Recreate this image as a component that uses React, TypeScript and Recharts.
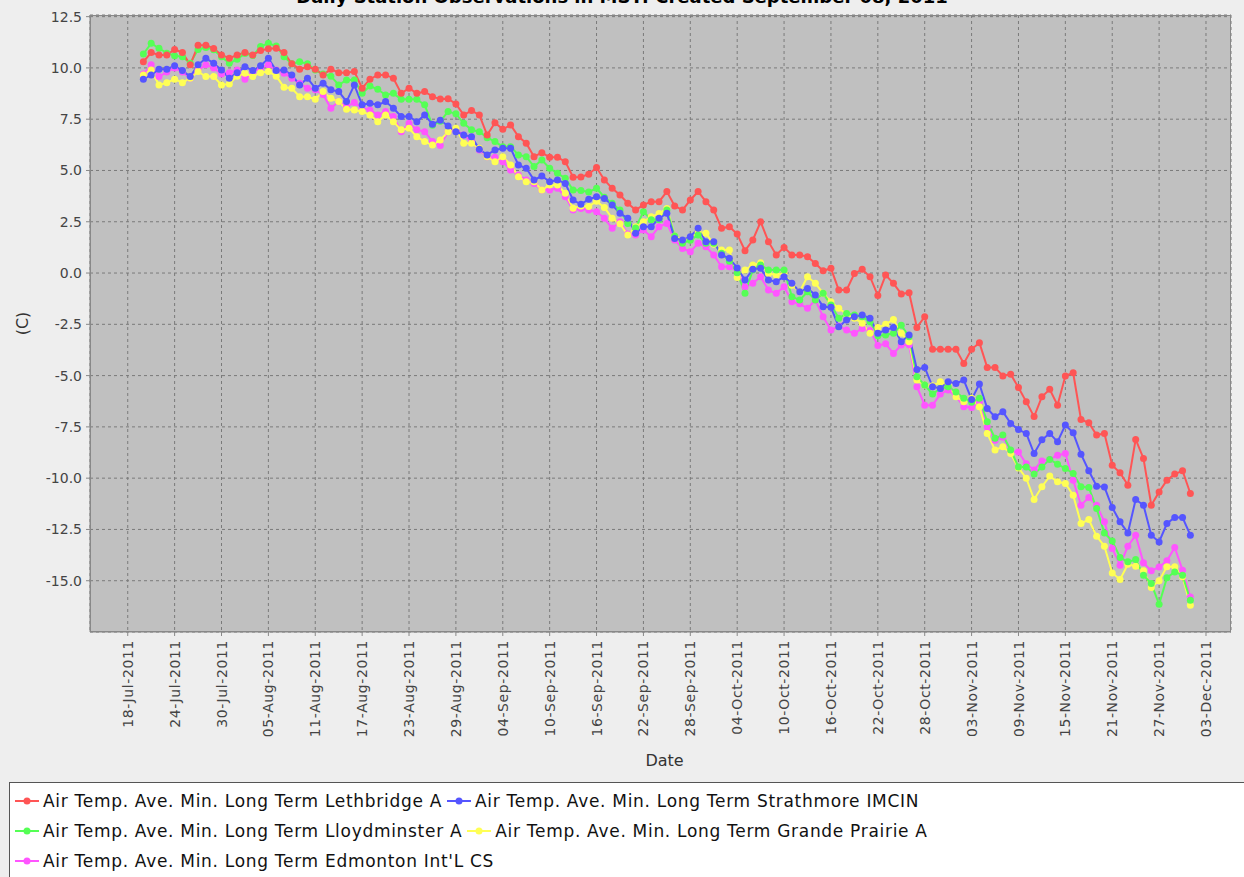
import React from "react";
import { LineChart, Line, XAxis, YAxis, CartesianGrid, Label } from "recharts";

// daily values, first point on 20-Jul-2011
const firstDay = "20-Jul-2011";

const tickLabels = [
  "18-Jul-2011", "24-Jul-2011", "30-Jul-2011", "05-Aug-2011", "11-Aug-2011", "17-Aug-2011",
  "23-Aug-2011", "29-Aug-2011", "04-Sep-2011", "10-Sep-2011", "16-Sep-2011", "22-Sep-2011",
  "28-Sep-2011", "04-Oct-2011", "10-Oct-2011", "16-Oct-2011", "22-Oct-2011", "28-Oct-2011",
  "03-Nov-2011", "09-Nov-2011", "15-Nov-2011", "21-Nov-2011", "27-Nov-2011", "03-Dec-2011",
];

const yTicks = [-15, -12.5, -10, -7.5, -5, -2.5, 0, 2.5, 5, 7.5, 10, 12.5];

const lethbridge = [
  10.3, 10.75, 10.63, 10.63, 10.9, 10.75, 10.15, 11.1, 11.1, 10.95, 10.63, 10.47, 10.63, 10.75, 10.63, 10.85, 10.93, 10.96, 10.75,
  10.2, 9.94, 10.06, 9.94, 9.66, 9.94, 9.77, 9.77, 9.82, 9.01, 9.45, 9.66, 9.66, 9.5, 8.76, 9.01, 8.76, 8.85, 8.6, 8.48,
  8.5, 8.24, 7.71, 7.92, 7.71, 6.73, 7.33, 7.01, 7.22, 6.65, 6.33, 5.67, 5.87, 5.64, 5.64, 5.43, 4.67, 4.68, 4.82,
  5.15, 4.54, 4.13, 3.8, 3.4, 3.07, 3.32, 3.48, 3.48, 3.97, 3.27, 3.07, 3.56, 3.97, 3.48, 3.07, 2.18, 2.26, 1.9,
  1.09, 1.61, 2.5, 1.53, 0.88, 1.25, 0.88, 0.88, 0.8, 0.47, 0.11, 0.23, -0.83, -0.83, -0.02, 0.18, -0.18, -1.1, -0.1,
  -0.5, -1.02, -0.96, -2.65, -2.13, -3.72, -3.72, -3.72, -3.72, -4.41, -3.72, -3.4, -4.6, -4.6, -5.02, -4.93, -5.58, -6.28, -7.0, -6.03,
  -5.67, -6.44, -5.02, -4.86, -7.14, -7.3, -7.9, -7.82, -9.37, -9.74, -10.34, -8.11, -9.04, -11.32, -10.67, -10.1, -9.8, -9.64, -10.75,
];

const strathmore = [
  9.45, 9.66, 9.94, 9.94, 10.1, 9.87, 9.58, 10.15, 10.47, 10.23, 9.9, 9.5, 9.77, 10.06, 9.87, 10.1, 10.47, 9.87, 9.9,
  9.66, 9.17, 9.5, 9.01, 9.25, 8.93, 8.85, 8.36, 9.17, 8.2, 8.28, 8.2, 8.36, 8.03, 7.63, 7.63, 7.38, 7.71, 7.25, 7.45,
  7.17, 6.89, 6.73, 6.65, 6.03, 5.76, 6.0, 6.08, 6.08, 5.27, 5.11, 4.54, 4.73, 4.45, 4.54, 4.37, 3.56, 3.35, 3.6,
  3.72, 3.64, 3.32, 2.91, 2.67, 1.94, 2.26, 2.26, 2.67, 2.91, 1.69, 1.61, 1.77, 2.18, 1.53, 1.53, 0.88, 0.72, 0.25,
  -0.34, 0.18, 0.23, -0.34, -0.42, -0.18, -0.5, -0.91, -0.75, -1.07, -1.64, -1.67, -2.62, -2.29, -2.13, -2.05, -2.21, -2.93, -2.78,
  -2.65, -3.35, -3.02, -4.7, -4.6, -5.54, -5.63, -5.3, -5.38, -5.22, -6.16, -5.41, -6.6, -7.01, -6.76, -7.33, -7.63, -7.82, -8.8, -8.13,
  -7.82, -8.23, -7.41, -7.79, -8.83, -9.64, -10.39, -10.43, -11.43, -12.13, -12.67, -11.04, -11.32, -12.78, -13.11, -12.21, -11.92, -11.92, -12.78,
];

const lloydminster = [
  10.68, 11.2, 10.96, 10.72, 10.59, 10.55, 10.23, 10.9, 11.0, 10.88, 10.55, 10.23, 10.42, 10.7, 10.6, 11.04, 11.2, 11.07, 10.55,
  10.2, 10.3, 10.2, 9.9, 9.7, 9.6, 9.17, 9.41, 9.41, 8.76, 9.12, 8.96, 8.68, 8.76, 8.47, 8.47, 8.47, 8.2, 7.2, 7.4,
  7.87, 7.76, 7.3, 6.98, 6.89, 6.6, 6.41, 6.16, 6.16, 5.76, 5.67, 5.19, 5.51, 5.11, 4.86, 4.62, 4.05, 4.02, 3.95,
  4.13, 3.7, 3.4, 3.07, 2.42, 2.2, 2.99, 2.6, 2.6, 3.07, 1.8, 1.45, 1.6, 1.85, 1.45, 1.45, 0.96, 0.57, 0.02,
  -0.99, 0.15, 0.39, 0.15, 0.15, 0.15, -1.15, -1.32, -0.91, -1.32, -0.99, -1.56, -2.21, -1.97, -2.05, -2.13, -2.37, -3.06, -3.02,
  -2.94, -2.54, -3.11, -5.06, -5.46, -5.9, -5.63, -5.54, -5.8, -6.11, -6.3, -6.11, -7.25, -8.06, -7.9, -8.63, -9.45, -9.45, -9.8, -9.45,
  -9.09, -9.32, -9.53, -9.77, -10.42, -10.45, -11.48, -12.67, -13.06, -13.87, -14.08, -13.97, -14.73, -15.14, -16.15, -14.85, -14.57, -14.73, -15.95,
];

const grandePrairie = [
  9.66, 9.9, 9.17, 9.28, 9.45, 9.28, 9.5, 9.82, 9.58, 9.58, 9.17, 9.22, 9.6, 9.74, 9.58, 9.77, 9.82, 9.6, 9.06,
  9.01, 8.6, 8.6, 8.47, 8.85, 8.52, 8.36, 7.98, 7.95, 7.87, 7.71, 7.38, 7.71, 7.38, 6.98, 7.06, 6.65, 6.41, 6.24, 6.49,
  6.89, 7.06, 6.33, 6.33, 6.08, 5.67, 5.43, 5.67, 5.27, 4.7, 4.45, 4.45, 4.05, 4.29, 4.29, 3.89, 3.16, 3.27, 3.24,
  3.5, 3.2, 2.67, 2.4, 1.85, 2.26, 2.5, 2.75, 2.9, 3.15, 1.8, 1.6, 1.7, 2.0, 1.94, 1.4, 1.12, 1.12, -0.22,
  0.15, 0.39, 0.5, -0.02, -0.1, 0.0, -0.6, -0.9, -0.18, -0.5, -0.99, -1.4, -1.72, -2.0, -2.2, -2.45, -2.94, -2.65, -2.5,
  -2.26, -2.94, -3.35, -5.22, -5.46, -5.5, -5.3, -5.46, -6.03, -6.28, -6.11, -6.52, -7.82, -8.63, -8.47, -8.8, -9.5, -10.0, -11.04, -10.42,
  -9.9, -10.18, -10.26, -10.83, -12.21, -12.02, -12.83, -13.32, -14.62, -14.94, -14.2, -14.29, -14.52, -15.33, -15.0, -14.32, -14.32, -14.81, -16.2,
];

const edmonton = [
  9.7, 10.15, 9.58, 9.8, 10.0, 9.8, 9.5, 9.9, 10.15, 10.0, 9.7, 9.77, 9.9, 9.45, 9.8, 10.0, 10.15, 9.9, 9.74,
  9.5, 9.25, 9.01, 8.93, 8.7, 8.03, 8.36, 8.11, 8.31, 8.03, 7.95, 7.71, 7.87, 7.63, 6.89, 7.3, 6.98, 6.89, 6.41, 6.22,
  6.89, 6.98, 6.73, 6.4, 6.0, 5.67, 5.64, 5.43, 5.02, 4.78, 4.54, 4.37, 4.05, 4.05, 4.13, 3.72, 3.07, 3.15, 3.07,
  2.99, 2.67, 2.18, 2.5, 1.9, 1.85, 2.1, 1.77, 2.26, 2.42, 1.61, 1.2, 1.04, 1.45, 1.28, 0.88, 0.31, 0.31, 0.1,
  -0.67, -0.5, -0.18, -0.83, -0.99, -0.67, -1.4, -1.5, -1.72, -1.32, -2.13, -2.78, -2.6, -2.78, -2.94, -2.7, -2.8, -3.53, -3.45,
  -3.92, -3.51, -3.5, -5.54, -6.44, -6.44, -5.9, -5.7, -6.0, -6.52, -6.55, -6.3, -7.5, -8.15, -8.0, -8.7, -8.72, -9.3, -9.6, -9.16,
  -9.09, -8.88, -8.8, -10.1, -11.32, -10.94, -11.32, -12.13, -13.43, -14.24, -13.32, -12.78, -14.13, -14.52, -14.33, -14.03, -13.38, -14.49, -15.79,
];

const series = [
  { key: "lethbridge", name: "Air Temp. Ave. Min. Long Term Lethbridge A", color: "#ff5555" },
  { key: "strathmore", name: "Air Temp. Ave. Min. Long Term Strathmore IMCIN", color: "#5555ff" },
  { key: "lloydminster", name: "Air Temp. Ave. Min. Long Term Lloydminster A", color: "#55ff55" },
  { key: "grandePrairie", name: "Air Temp. Ave. Min. Long Term Grande Prairie A", color: "#ffff55" },
  { key: "edmonton", name: "Air Temp. Ave. Min. Long Term Edmonton Int'L CS", color: "#ff55ff" },
];

const MONTHS = ["Jan", "Feb", "Mar", "Apr", "May", "Jun", "Jul", "Aug", "Sep", "Oct", "Nov", "Dec"];
const DAY = 86400000;

function parseDate(s: string) {
  const [d, m, y] = s.split("-");
  return Date.UTC(+y, MONTHS.indexOf(m), +d);
}

function formatDate(t: number) {
  const d = new Date(t);
  const dd = String(d.getUTCDate()).padStart(2, "0");
  return `${dd}-${MONTHS[d.getUTCMonth()]}-${d.getUTCFullYear()}`;
}

const start = parseDate(firstDay);
const data = lethbridge.map((v, i) => ({
  t: start + i * DAY,
  lethbridge: v,
  strathmore: strathmore[i],
  lloydminster: lloydminster[i],
  grandePrairie: grandePrairie[i],
  edmonton: edmonton[i],
}));

const xTicks = tickLabels.map(parseDate);
const axisStart = xTicks[0];
const xDomain = [axisStart - 4.83 * DAY, axisStart + 141.2 * DAY];

const FONT = "'DejaVu Sans', sans-serif";

const DateTick = (props: any) => {
  const { x, y, payload } = props;
  return (
    <text
      x={x}
      y={y}
      transform={`rotate(-90 ${x} ${y})`}
      textAnchor="end"
      dy="0.36em"
      fontSize={14}
      letterSpacing={0.6}
      fill="#444"
      fontFamily={FONT}
    >
      {formatDate(payload.value)}
    </text>
  );
};

const LegendMarker = ({ color }: { color: string }) => (
  <svg width={26} height={12} style={{ marginRight: 3, flex: "none" }}>
    <line x1={1} y1={6} x2={25} y2={6} stroke={color} strokeWidth={2} />
    <circle cx={13} cy={6} r={3.5} fill={color} />
  </svg>
);

const legendRows = [[0, 1], [2, 3], [4]];

export default function App() {
  const drawOrder = [...series].reverse();
  return (
    <div
      style={{
        position: "fixed",
        left: 0,
        top: 0,
        width: 1244,
        height: 877,
        background: "#eeeeee",
        fontFamily: FONT,
        overflow: "hidden",
      }}
    >
      <div
        style={{
          position: "absolute",
          top: -14,
          left: 0,
          width: 1244,
          textAlign: "center",
          fontSize: 18,
          lineHeight: "21px",
          fontWeight: "bold",
          color: "#000",
        }}
      >
        Daily Station Observations in MST: Created September 08, 2011
      </div>
      <LineChart
        width={1244}
        height={782}
        data={data}
        margin={{ top: 15, right: 13, left: 0, bottom: 0 }}
      >
        <CartesianGrid fill="#c0c0c0" stroke="#7a7a7a" strokeDasharray="3 3" />
        <XAxis
          dataKey="t"
          type="number"
          scale="linear"
          domain={xDomain}
          ticks={xTicks}
          allowDataOverflow
          height={150}
          interval={0}
          tick={<DateTick />}
          tickSize={4}
          tickMargin={4}
          stroke="#888"
        >
          <Label
            content={(p: any) => {
              const vb = p.viewBox;
              return (
                <text
                  x={vb.x + vb.width / 2 + 4}
                  y={vb.y + 134}
                  textAnchor="middle"
                  fontSize={16}
                  fill="#333"
                  fontFamily={FONT}
                >
                  Date
                </text>
              );
            }}
          />
        </XAxis>
        <YAxis
          type="number"
          domain={[-17.5, 12.58]}
          ticks={yTicks}
          allowDataOverflow
          width={90}
          interval={0}
          tickFormatter={(v: number) => v.toFixed(1)}
          tick={{ fontSize: 14, fill: "#444", fontFamily: FONT }}
          tickSize={4}
          tickMargin={4}
          stroke="#888"
        >
          <Label
            content={(p: any) => {
              const vb = p.viewBox;
              const cx = 22;
              const cy = vb.y + vb.height / 2;
              return (
                <text
                  x={cx}
                  y={cy}
                  transform={`rotate(-90 ${cx} ${cy})`}
                  textAnchor="middle"
                  dy="0.35em"
                  fontSize={16}
                  fill="#333"
                  fontFamily={FONT}
                >
                  (C)
                </text>
              );
            }}
          />
        </YAxis>
        {drawOrder.map((s) => (
          <Line
            key={s.key}
            dataKey={s.key}
            name={s.name}
            type="linear"
            stroke={s.color}
            strokeWidth={2}
            dot={{ r: 3.5, fill: s.color, stroke: s.color, strokeWidth: 0 }}
            activeDot={false}
            isAnimationActive={false}
          />
        ))}
      </LineChart>
      <div
        style={{
          position: "absolute",
          left: 90,
          top: 15,
          width: 1141,
          height: 617,
          boxSizing: "border-box",
          border: "1px solid #888",
          pointerEvents: "none",
        }}
      />
      <div
        style={{
          position: "absolute",
          left: 9,
          top: 782,
          width: 1240,
          height: 100,
          boxSizing: "border-box",
          background: "#ffffff",
          border: "1px solid #555",
          paddingTop: 3,
          paddingLeft: 4,
        }}
      >
        {legendRows.map((row, ri) => (
          <div key={ri} style={{ display: "flex", alignItems: "center", height: 30 }}>
            {row.map((si) => (
              <div key={si} style={{ display: "flex", alignItems: "center", marginRight: 4 }}>
                <LegendMarker color={series[si].color} />
                <span style={{ fontSize: 17, color: "#111", letterSpacing: 0.7 }}>{series[si].name}</span>
              </div>
            ))}
          </div>
        ))}
      </div>
    </div>
  );
}
